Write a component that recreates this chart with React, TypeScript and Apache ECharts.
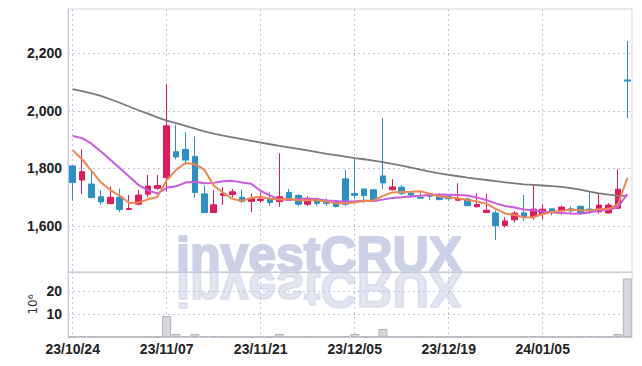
import React, { useEffect, useRef } from "react";
import * as echarts from "echarts";

const dates = [
  "23/10/24", "23/10/25", "23/10/26", "23/10/27", "23/10/30", "23/10/31", "23/11/01", "23/11/02", "23/11/03", "23/11/06",
  "23/11/07", "23/11/08", "23/11/09", "23/11/10", "23/11/13", "23/11/14", "23/11/15", "23/11/16", "23/11/17", "23/11/20",
  "23/11/21", "23/11/22", "23/11/23", "23/11/24", "23/11/27", "23/11/28", "23/11/29", "23/11/30", "23/12/01", "23/12/04",
  "23/12/05", "23/12/06", "23/12/07", "23/12/08", "23/12/11", "23/12/12", "23/12/13", "23/12/14", "23/12/15", "23/12/18",
  "23/12/19", "23/12/20", "23/12/21", "23/12/22", "23/12/26", "23/12/27", "23/12/28", "24/01/02", "24/01/03", "24/01/04",
  "24/01/05", "24/01/08", "24/01/09", "24/01/10", "24/01/11", "24/01/12", "24/01/15", "24/01/16", "24/01/17", "24/01/18",
];

const opens = [
  1809, 1760, 1746, 1702, 1678, 1700, 1658, 1676, 1711, 1731,
  1768, 1858, 1866, 1842, 1712, 1647, 1707, 1710, 1700, 1686,
  1689, 1694, 1685, 1717, 1706, 1676, 1694, 1682, 1682, 1764,
  1713, 1729, 1726, 1774, 1726, 1735, 1715, 1699, 1713, 1704,
  1704, 1690, 1694, 1667, 1647, 1646, 1602, 1622, 1646, 1633,
  1642, 1660, 1653, 1660, 1669, 1659, 1650, 1646, 1662, 2107,
];
const closes = [
  1751, 1789, 1699, 1684, 1700, 1658, 1661, 1708, 1739, 1741,
  1948, 1840, 1829, 1717, 1647, 1674, 1713, 1719, 1686, 1696,
  1694, 1682, 1702, 1697, 1676, 1694, 1679, 1679, 1668, 1676,
  1707, 1706, 1686, 1750, 1736, 1714, 1708, 1697, 1704, 1692,
  1695, 1695, 1671, 1675, 1655, 1602, 1618, 1645, 1631, 1659,
  1659, 1652, 1666, 1653, 1645, 1656, 1673, 1673, 1728, 2103,
];
const lows = [
  1688, 1711, 1697, 1674, 1676, 1649, 1657, 1672, 1700, 1725,
  1720, 1832, 1812, 1699, 1647, 1646, 1674, 1700, 1680, 1649,
  1681, 1671, 1667, 1695, 1669, 1670, 1671, 1670, 1665, 1670,
  1695, 1680, 1684, 1729, 1724, 1708, 1700, 1696, 1690, 1690,
  1688, 1688, 1670, 1665, 1646, 1552, 1595, 1613, 1618, 1622,
  1624, 1637, 1640, 1643, 1644, 1642, 1643, 1643, 1659, 1974,
];
const highs = [
  1810, 1867, 1789, 1725, 1737, 1730, 1708, 1726, 1778, 1778,
  2093, 1952, 1925, 1911, 1741, 1724, 1734, 1729, 1727, 1713,
  1717, 1717, 1853, 1729, 1711, 1704, 1699, 1696, 1684, 1796,
  1836, 1730, 1727, 1975, 1763, 1743, 1717, 1718, 1716, 1713,
  1711, 1749, 1699, 1714, 1712, 1655, 1631, 1652, 1708, 1743,
  1676, 1662, 1671, 1668, 1670, 1718, 1714, 1680, 1797, 2242,
];

const ma5 = [
  1863, 1832, 1792, 1752, 1725, 1706, 1680, 1682, 1693, 1701,
  1759, 1795, 1819, 1815, 1796, 1741, 1716, 1694, 1688, 1698,
  1702, 1695, 1692, 1694, 1690, 1690, 1690, 1685, 1679, 1679,
  1682, 1687, 1689, 1705, 1717, 1718, 1719, 1721, 1712, 1703,
  1699, 1697, 1691, 1686, 1678, 1660, 1644, 1639, 1630, 1631,
  1642, 1649, 1653, 1658, 1655, 1654, 1659, 1660, 1675, 1767,
];
const ma10 = [
  1913, 1905, 1886, 1859, 1830, 1802, 1772, 1743, 1724, 1713,
  1733, 1738, 1751, 1754, 1749, 1750, 1756, 1757, 1751, 1747,
  1722, 1706, 1693, 1691, 1694, 1696, 1693, 1689, 1687, 1685,
  1686, 1688, 1687, 1692, 1698, 1700, 1703, 1705, 1708, 1710,
  1709, 1708, 1706, 1699, 1691, 1679, 1670, 1665, 1658, 1655,
  1651, 1647, 1646, 1644, 1643, 1648, 1654, 1657, 1666, 1711,
];
const maLong = [
  2075, 2068, 2060, 2052, 2040, 2028, 2015, 2002, 1990, 1977,
  1966, 1957, 1948, 1938, 1929, 1921, 1914, 1908, 1902, 1896,
  1890, 1884, 1878, 1873, 1868, 1863, 1857, 1851, 1846, 1841,
  1836, 1832, 1827, 1822, 1816, 1810, 1803, 1796, 1789, 1783,
  1778, 1773, 1768, 1764, 1760, 1756, 1752, 1748, 1745, 1743,
  1741, 1739, 1736, 1732, 1727, 1720, 1714, 1709, 1706, 1705,
];

// volume in millions (10^6)
const volumes = [
  0.1, 0.4, 0.1, 0.1, 0.1, 0.1, 0.1, 0.1, 0.1, 0.1,
  9.1, 1.3, 0.4, 1.3, 0.4, 0.4, 0.1, 0.1, 0.1, 0.1,
  0.1, 0.1, 1.3, 0.1, 0.1, 0.1, 0.1, 0.1, 0.1, 0.4,
  1.3, 0.1, 0.1, 3.5, 0.1, 0.1, 0.1, 0.1, 0.1, 0.1,
  0.1, 0.1, 0.1, 0.1, 0.1, 0.1, 0.1, 0.1, 0.1, 0.4,
  0.1, 0.1, 0.1, 0.1, 0.1, 0.4, 0.1, 0.1, 1.3, 25.5,
];

const priceTicks = [1600, 1800, 2000, 2200];
const volumeTicks = [10, 20];

const UP = "#e3195f";
const DOWN = "#2d90c5";
const GRID_DOT = "#bfc3dc";

export default function App() {
  const ref = useRef<HTMLDivElement>(null);

  useEffect(() => {
    if (!ref.current) return;
    const chart = echarts.init(ref.current, undefined, { renderer: "svg" });

    const candleData = opens.map((o, i) => [o, closes[i], lows[i], highs[i]]);

    const splitX = {
      show: true,
      interval: 9,
      alignWithLabel: true,
      lineStyle: { color: GRID_DOT, type: [2, 3], width: 1 },
    };
    const splitY = { show: true, lineStyle: { color: GRID_DOT, type: [2, 3], width: 1 } };
    const labelStyle = {
      fontFamily: '"Liberation Sans", Arial, sans-serif',
      fontWeight: "bold",
      fontSize: 14,
      color: "#222",
    };

    const option: any = {
      animation: false,
      backgroundColor: "#ffffff",
      grid: [
        { left: 68, right: 10, top: 9, height: 263, show: true, borderColor: "#d3d4dc", borderWidth: 1 },
        { left: 68, right: 10, top: 272, height: 65, show: true, borderColor: "#d3d4dc", borderWidth: 1 },
      ],
      xAxis: [
        {
          type: "category",
          gridIndex: 0,
          data: dates,
          boundaryGap: true,
          axisLine: { show: true, lineStyle: { color: "#c9cad6" } },
          axisTick: { show: false },
          axisLabel: { show: false },
          splitLine: splitX,
        },
        {
          type: "category",
          gridIndex: 1,
          data: dates,
          boundaryGap: true,
          axisLine: { show: true, lineStyle: { color: "#c9cad6" } },
          axisTick: { show: false, interval: 9, alignWithLabel: true },
          axisLabel: { ...labelStyle, interval: 9, margin: 5 },
          splitLine: splitX,
        },
      ],
      yAxis: [
        {
          type: "value",
          gridIndex: 0,
          min: 1441,
          max: 2353,
          axisLine: { show: true, lineStyle: { color: "#c9cbdc" } },
          axisTick: { show: false, customValues: priceTicks },
          axisLabel: {
            ...labelStyle,
            margin: 6,
            customValues: priceTicks,
            formatter: (v: number) => v.toLocaleString("en-US"),
          },
          splitLine: splitY,
        },
        {
          type: "value",
          gridIndex: 1,
          min: 0,
          max: 28.3,
          name: "10\u2076",
          nameLocation: "middle",
          nameRotate: 90,
          nameGap: 29,
          nameMoveOverlap: false,
          nameTextStyle: { fontFamily: "DejaVu Sans", fontSize: 12, color: "#333" },
          axisLine: { show: true, lineStyle: { color: "#c9cbdc" } },
          axisTick: { show: false, customValues: volumeTicks },
          axisLabel: { ...labelStyle, margin: 6, customValues: volumeTicks },
          splitLine: splitY,
        },
      ],
      graphic: [
        {
          type: "text",
          x: 176,
          y: 272,
          z: 0,
          silent: true,
          style: {
            text: "investCRUX",
            x: 0,
            y: -17,
            verticalAlign: "middle",
            font: 'bold 50px "Liberation Sans", sans-serif',
            fill: "#ccd1e5",
            stroke: "#ccd1e5",
            lineWidth: 2,
          },
        },
        {
          type: "text",
          x: 176,
          y: 272,
          scaleY: -1,
          z: 0,
          silent: true,
          style: {
            text: "investCRUX",
            x: 0,
            y: -17,
            verticalAlign: "middle",
            font: 'bold 50px "Liberation Sans", sans-serif',
            fill: "#ccd1e5",
            stroke: "#ccd1e5",
            lineWidth: 2,
            opacity: 0.55,
          },
        },
      ],
      series: [
        {
          type: "candlestick",
          xAxisIndex: 0,
          yAxisIndex: 0,
          data: candleData,
          barWidth: 6,
          itemStyle: {
            color: UP,
            color0: DOWN,
            borderColor: UP,
            borderColor0: DOWN,
            borderWidth: 1,
          },
          z: 3,
        },
        {
          type: "line",
          xAxisIndex: 0,
          yAxisIndex: 0,
          data: maLong,
          symbol: "none",
          lineStyle: { color: "#7a7a7e", width: 1.8 },
          z: 4,
        },
        {
          type: "line",
          xAxisIndex: 0,
          yAxisIndex: 0,
          data: ma10,
          symbol: "none",
          lineStyle: { color: "#c85ce0", width: 2 },
          z: 4,
        },
        {
          type: "line",
          xAxisIndex: 0,
          yAxisIndex: 0,
          data: ma5,
          symbol: "none",
          lineStyle: { color: "#ef8850", width: 2 },
          z: 5,
        },
        {
          type: "bar",
          xAxisIndex: 1,
          yAxisIndex: 1,
          data: volumes,
          barCategoryGap: "4%",
          itemStyle: { color: "#d6d6dc", borderColor: "#b3b3bb", borderWidth: 1 },
          z: 3,
        },
      ],
    };

    chart.setOption(option);
    return () => chart.dispose();
  }, []);

  return (
    <div
      ref={ref}
      style={{ position: "fixed", left: 0, top: 0, width: 642, height: 366, background: "#fff" }}
    />
  );
}
